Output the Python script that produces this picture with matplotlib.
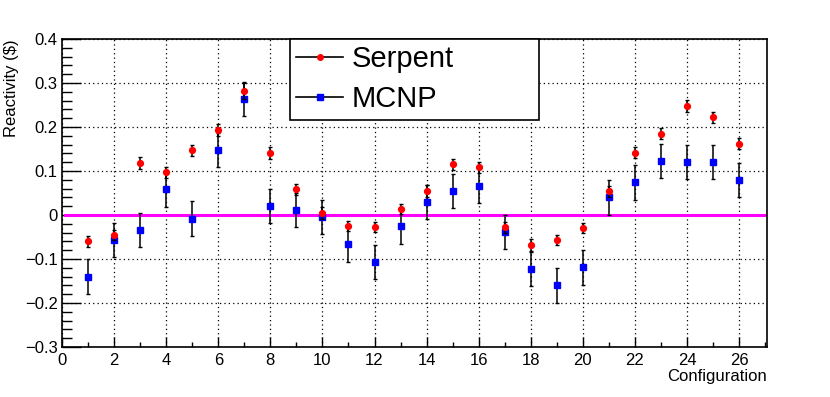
import numpy as np
import matplotlib
matplotlib.use("Agg")
import matplotlib.pyplot as plt
from matplotlib.lines import Line2D
from matplotlib.ticker import MultipleLocator, FuncFormatter

plt.rcParams['font.family'] = ['Liberation Sans', 'DejaVu Sans']

# configuration numbers
config = np.arange(1, 27)

# Serpent reactivity ($) and uncertainties
serpent = [-0.060, -0.045, 0.118, 0.097, 0.147, 0.193, 0.282, 0.141, 0.058, 0.005,
           -0.025, -0.027, 0.014, 0.055, 0.115, 0.108, -0.028, -0.068, -0.057, -0.030,
           0.054, 0.142, 0.185, 0.248, 0.222, 0.162]
serpent_err = [0.013, 0.012, 0.013, 0.012, 0.012, 0.013, 0.019, 0.013, 0.013, 0.013,
               0.012, 0.012, 0.012, 0.013, 0.012, 0.013, 0.012, 0.013, 0.012, 0.012,
               0.013, 0.013, 0.013, 0.013, 0.012, 0.013]

# MCNP reactivity ($) and uncertainties
mcnp = [-0.140, -0.057, -0.034, 0.058, -0.008, 0.148, 0.263, 0.021, 0.011, -0.004,
        -0.067, -0.107, -0.026, 0.030, 0.055, 0.067, -0.039, -0.123, -0.160, -0.119,
        0.040, 0.074, 0.122, 0.120, 0.120, 0.079]
mcnp_err = [0.039] * 26

fig = plt.figure(figsize=(8.3, 3.97), dpi=100)
ax = fig.add_axes([62 / 830, 1 - 347 / 397, 705 / 830, 308 / 397])

ax.set_xlim(0, 27.07)
ax.set_ylim(-0.3, 0.4)

# grid under everything
ax.grid(True, which='major', color='black', linestyle=(0, (1, 2.5)), linewidth=0.9)
ax.set_axisbelow(True)

ax.plot([0.1, 27], [0, 0], color='#ff00ff', linewidth=2.2, zorder=2)

ax.errorbar(config, mcnp, yerr=mcnp_err, fmt='s', color='blue', markersize=4.2,
            ecolor='black', elinewidth=1.1, capsize=1.5, capthick=1.0, zorder=3)
ax.errorbar(config, serpent, yerr=serpent_err, fmt='o', color='red', markersize=4.2,
            ecolor='black', elinewidth=1.1, capsize=1.5, capthick=1.0, zorder=4)

ax.xaxis.set_major_locator(MultipleLocator(2))
ax.xaxis.set_minor_locator(MultipleLocator(1))
ax.yaxis.set_major_locator(MultipleLocator(0.1))
ax.yaxis.set_minor_locator(MultipleLocator(0.02))

def fmt(v, pos):
    s = f"{v:.1f}".rstrip('0').rstrip('.')
    if abs(v) < 1e-9:
        s = "0"
    return s.replace('-', '\u2212')

ax.yaxis.set_major_formatter(FuncFormatter(fmt))
ax.xaxis.set_major_formatter(FuncFormatter(lambda v, p: f"{int(round(v))}"))

ax.tick_params(axis='both', which='both', direction='in', labelsize=12, colors='black')
ax.tick_params(axis='y', which='major', length=14, width=1.0, pad=3)
ax.tick_params(axis='y', which='minor', length=7, width=1.0)
ax.tick_params(axis='x', which='major', length=7, width=1.0, pad=4)
ax.tick_params(axis='x', which='minor', length=3.6, width=1.0)

for s in ax.spines.values():
    s.set_linewidth(1.2)

ax.set_ylabel("Reactivity ($)", fontsize=12, loc='top', labelpad=4)
ax.set_xlabel("Configuration", fontsize=12, loc='right', labelpad=1)

handles = [
    Line2D([], [], color='black', linewidth=1.2, marker='o', markersize=4,
           markerfacecolor='red', markeredgecolor='red'),
    Line2D([], [], color='black', linewidth=1.2, marker='s', markersize=4,
           markerfacecolor='blue', markeredgecolor='blue'),
]
leg = ax.legend(handles, ["Serpent", "MCNP"], fontsize=21, loc='upper left',
                bbox_to_anchor=(228 / 705, 1.0, 249 / 705, 0), mode='expand',
                borderaxespad=0, frameon=True, fancybox=False, framealpha=1,
                edgecolor='black', handlelength=1.6, handletextpad=0.3,
                borderpad=0.22, labelspacing=0.4)
leg.get_frame().set_linewidth(1.2)

fig.savefig("out.png", dpi=100)
